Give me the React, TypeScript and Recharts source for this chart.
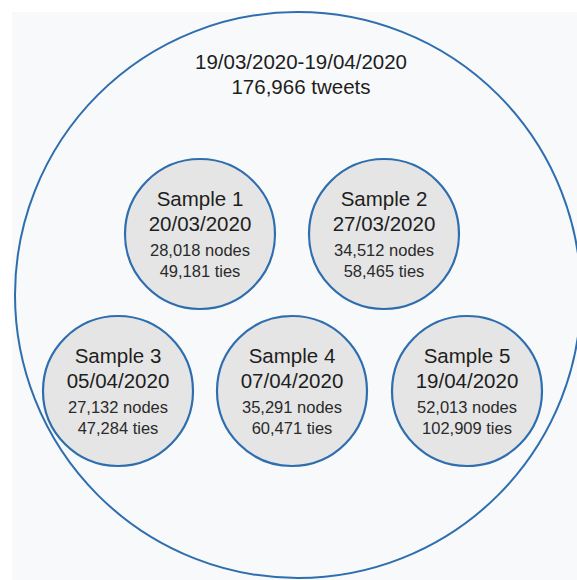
import { ScatterChart, Scatter, XAxis, YAxis, ReferenceArea } from 'recharts';

// overall corpus
const periodLabel = '19/03/2020-19/04/2020';
const tweetCount = 176966;

// samples
const sampleNames = ['Sample 1', 'Sample 2', 'Sample 3', 'Sample 4', 'Sample 5'];
const sampleDates = ['20/03/2020', '27/03/2020', '05/04/2020', '07/04/2020', '19/04/2020'];
const sampleNodes = [28018, 34512, 27132, 35291, 52013];
const sampleTies = [49181, 58465, 47284, 60471, 102909];

// diagram layout (diagram units, mapped by the axes)
const layoutX = [200, 384, 118, 292, 467];
const layoutY = [234, 234, 391, 391, 391];
const outerX = 298;
const outerY = 295;

const W = 577;
const H = 580;
const FONT = '"Liberation Sans", Arial, sans-serif';
const BLUE = '#2f6eae';

const fmt = (n: number) => n.toLocaleString('en-US');

const samples = sampleNames.map((name, i) => ({
  x: layoutX[i],
  y: layoutY[i],
  name,
  date: sampleDates[i],
  nodes: sampleNodes[i],
  ties: sampleTies[i],
}));

const outer = [{ x: outerX, y: outerY }];

const OuterShape = (props: any) => {
  const { cx, cy } = props;
  return (
    <g>
      <circle cx={cx} cy={cy} r={283} fill="none" stroke={BLUE} strokeWidth={2} />
      <text x={cx + 3} y={cy - 226} textAnchor="middle" fontFamily={FONT} fontSize={20.5} fill="#1e1e1e">
        {periodLabel}
      </text>
      <text x={cx + 3} y={cy - 201} textAnchor="middle" fontFamily={FONT} fontSize={20.5} fill="#1e1e1e">
        {fmt(tweetCount)} tweets
      </text>
    </g>
  );
};

const SampleShape = (props: any) => {
  const { cx, cy, payload } = props;
  return (
    <g>
      <circle cx={cx} cy={cy} r={75} fill="#e5e5e5" stroke={BLUE} strokeWidth={2.2} />
      <text x={cx} y={cy - 28} textAnchor="middle" fontFamily={FONT} fontSize={20.5} fill="#1e1e1e">
        {payload.name}
      </text>
      <text x={cx} y={cy - 3} textAnchor="middle" fontFamily={FONT} fontSize={20.5} fill="#1e1e1e">
        {payload.date}
      </text>
      <text x={cx} y={cy + 22} textAnchor="middle" fontFamily={FONT} fontSize={16.5} fill="#2a2a2a">
        {fmt(payload.nodes)} nodes
      </text>
      <text x={cx} y={cy + 43} textAnchor="middle" fontFamily={FONT} fontSize={16.5} fill="#2a2a2a">
        {fmt(payload.ties)} ties
      </text>
    </g>
  );
};

export default function App() {
  return (
    <div style={{ position: 'absolute', left: 0, top: 0, width: W, height: H, background: '#fff', overflow: 'hidden' }}>
      <ScatterChart width={W} height={H} margin={{ top: 0, right: 0, bottom: 0, left: 0 }}>
        <XAxis type="number" dataKey="x" domain={[0, W]} hide />
        <YAxis type="number" dataKey="y" domain={[0, H]} reversed hide />
        <ReferenceArea x1={12} x2={W} y1={12} y2={H} fill="#f7f9fa" fillOpacity={1} stroke="none" />
        <Scatter data={outer} shape={OuterShape} isAnimationActive={false} />
        <Scatter data={samples} shape={SampleShape} isAnimationActive={false} />
      </ScatterChart>
    </div>
  );
}
